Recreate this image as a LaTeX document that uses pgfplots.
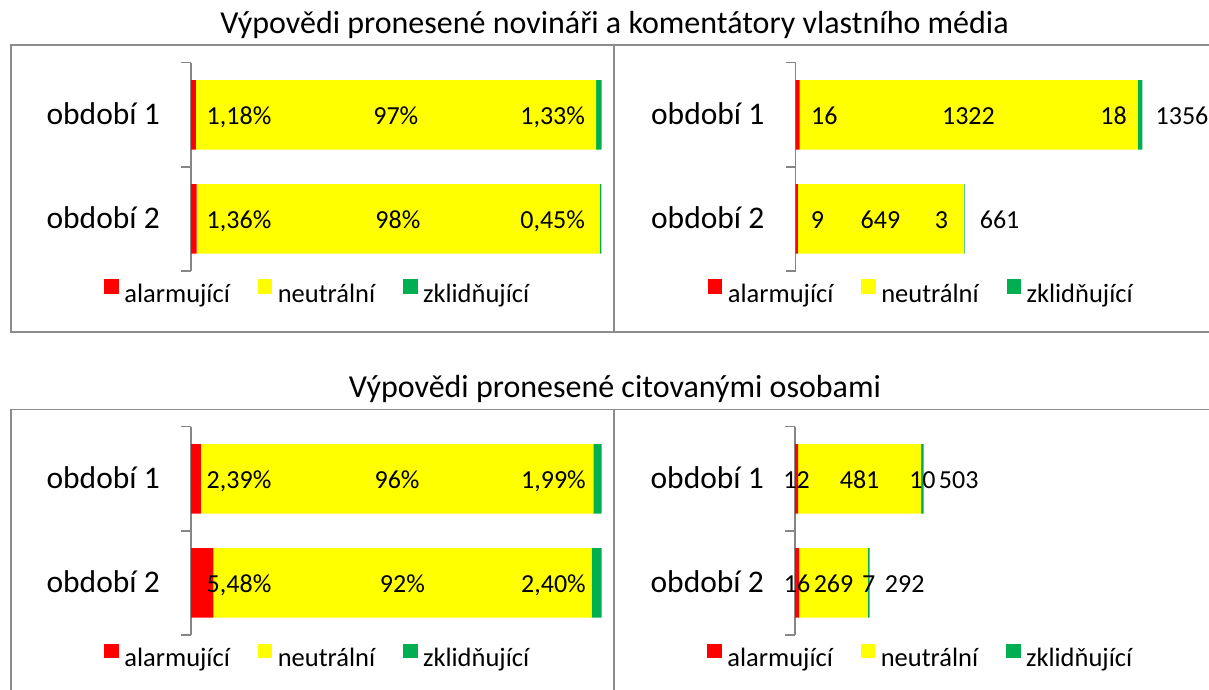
\documentclass[border=0pt]{standalone}
\usepackage{fontspec}
\setmainfont{Carlito}
\usepackage{pgfplots}
\pgfplotsset{compat=1.18}

\definecolor{cred}{RGB}{255,0,0}
\definecolor{cyel}{RGB}{255,255,0}
\definecolor{cgrn}{RGB}{0,176,80}
\definecolor{cgray}{RGB}{140,140,140}
\definecolor{caxis}{RGB}{134,134,134}

\pgfplotsset{
 panel/.style={
  scale only axis,
  xbar stacked,
  bar width=0.667,
  y dir=reverse,
  ymin=0.5, ymax=2.5,
  height=208.3pt,
  axis x line=none,
  axis y line*=left,
  y axis line style={caxis, line width=1.5pt},
  ytick={1,2},
  yticklabels={období 1, období 2},
  major tick length=0pt,
  minor ytick={0.5,1.5,2.5},
  minor tick length=10pt,
  tick align=outside,
  minor tick style={caxis, line width=1.5pt},
  yticklabel style={font=\fontsize{31.5}{37}\selectfont, inner sep=0pt, anchor=base east, xshift=-31pt, yshift=-9.6pt},
  clip=false,
  legend columns=3,
  legend style={draw=none, fill=none, font=\fontsize{26.5}{31}\selectfont, anchor=center,
    /tikz/every odd column/.append style={column sep=3.5pt},
    /tikz/every even column/.append style={column sep=26pt}},
  legend image code/.code={\fill[##1] (0pt,0pt) rectangle (14.4pt,14.4pt);},
  every axis plot/.append style={draw=none},
 },
}
\tikzset{
 dl/.style={font=\fontsize{26}{31}\selectfont, anchor=base, yshift=-9.3pt, inner sep=0pt},
 dlw/.style={font=\fontsize{26}{31}\selectfont, anchor=base west, yshift=-9.3pt, inner sep=0pt, xshift=15pt},
}

\begin{document}
\begin{tikzpicture}
\useasboundingbox (0pt,0pt) rectangle (1209pt,-689pt);
\clip (0pt,0pt) rectangle (1209pt,-689pt);
\fill[white] (0pt,0pt) rectangle (1209pt,-689pt);

% titles
\node[anchor=base, font=\fontsize{32}{38}\selectfont, inner sep=0pt] at (614.5pt,-33.3pt) {Výpovědi pronesené novináři a komentátory vlastního média};
\node[anchor=base, font=\fontsize{32}{38}\selectfont, inner sep=0pt] at (615pt,-397.3pt) {Výpovědi pronesené citovanými osobami};

% panel borders
\draw[cgray, line width=1.5pt] (11pt,-45pt) rectangle (614pt,-332pt);
\draw[cgray, line width=1.5pt] (614pt,-45pt) rectangle (1232pt,-332pt);
\draw[cgray, line width=1.5pt] (11pt,-409.5pt) rectangle (614pt,-696pt);
\draw[cgray, line width=1.5pt] (614pt,-409.5pt) rectangle (1232pt,-696pt);

% top left
\begin{axis}[panel, at={(191pt,-62.7pt)}, anchor=north west, width=410.5pt, xmin=0, xmax=100,
  legend style={at={(axis description cs:0.309,-0.104)}},
  after end axis/.code={
    \node[dl] at (axis cs:11.7,1) {1,18\%};
    \node[dl] at (axis cs:49.9,1) {97\%};
    \node[dl] at (axis cs:88.1,1) {1,33\%};
    \node[dl] at (axis cs:11.7,2) {1,36\%};
    \node[dl] at (axis cs:50.4,2) {98\%};
    \node[dl] at (axis cs:88.1,2) {0,45\%};
  }]
\addplot[fill=cred] coordinates {(1.18,1) (1.36,2)};
\addplot[fill=cyel] coordinates {(97.49,1) (98.18,2)};
\addplot[fill=cgrn] coordinates {(1.33,1) (0.45,2)};
\legend{alarmující, neutrální, zklidňující}
\end{axis}

% top right
\begin{axis}[panel, at={(795.5pt,-62.7pt)}, anchor=north west, width=414pt, xmin=0, xmax=1618,
  legend style={at={(axis description cs:0.304,-0.104)}},
  after end axis/.code={
    \node[dl] at (axis cs:113,1) {16};
    \node[dl] at (axis cs:676,1) {1322};
    \node[dl] at (axis cs:1243,1) {18};
    \node[dlw, xshift=-2pt] at (axis cs:1356,1) {1356};
    \node[dl] at (axis cs:86,2) {9};
    \node[dl] at (axis cs:332,2) {649};
    \node[dl] at (axis cs:570,2) {3};
    \node[dlw] at (axis cs:661,2) {661};
  }]
\addplot[fill=cred] coordinates {(16,1) (9,2)};
\addplot[fill=cyel] coordinates {(1322,1) (649,2)};
\addplot[fill=cgrn] coordinates {(18,1) (3,2)};
\legend{alarmující, neutrální, zklidňující}
\end{axis}

% bottom left
\begin{axis}[panel, at={(191pt,-426.7pt)}, anchor=north west, width=410.5pt, xmin=0, xmax=100,
  legend style={at={(axis description cs:0.309,-0.104)}},
  after end axis/.code={
    \node[dl] at (axis cs:11.7,1) {2,39\%};
    \node[dl] at (axis cs:50.2,1) {96\%};
    \node[dl] at (axis cs:88.3,1) {1,99\%};
    \node[dl] at (axis cs:11.7,2) {5,48\%};
    \node[dl] at (axis cs:51.5,2) {92\%};
    \node[dl] at (axis cs:88.3,2) {2,40\%};
  }]
\addplot[fill=cred] coordinates {(2.39,1) (5.48,2)};
\addplot[fill=cyel] coordinates {(95.63,1) (92.12,2)};
\addplot[fill=cgrn] coordinates {(1.99,1) (2.40,2)};
\legend{alarmující, neutrální, zklidňující}
\end{axis}

% bottom right
\begin{axis}[panel, at={(795pt,-426.7pt)}, anchor=north west, width=414pt, xmin=0, xmax=1618,
  legend style={at={(axis description cs:0.304,-0.104)}},
  after end axis/.code={
    \node[dl] at (axis cs:6,1) {12};
    \node[dl] at (axis cs:252.5,1) {481};
    \node[dl] at (axis cs:498,1) {10};
    \node[dlw] at (axis cs:503,1) {503};
    \node[dl] at (axis cs:8,2) {16};
    \node[dl] at (axis cs:150.5,2) {269};
    \node[dl] at (axis cs:288.5,2) {7};
    \node[dlw] at (axis cs:292,2) {292};
  }]
\addplot[fill=cred] coordinates {(12,1) (16,2)};
\addplot[fill=cyel] coordinates {(481,1) (269,2)};
\addplot[fill=cgrn] coordinates {(10,1) (7,2)};
\legend{alarmující, neutrální, zklidňující}
\end{axis}
\end{tikzpicture}
\end{document}
